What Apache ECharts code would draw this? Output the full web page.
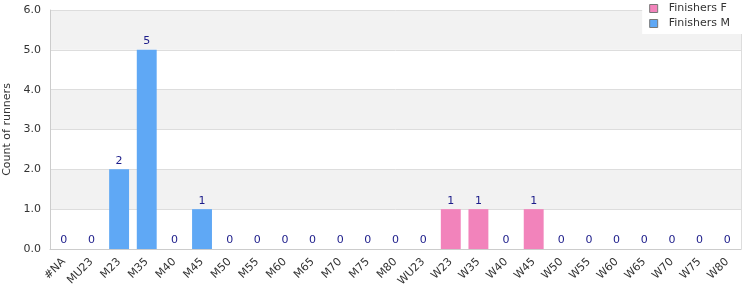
<!DOCTYPE html>
<html><head><meta charset="utf-8">
<script src="https://cdn.jsdelivr.net/npm/echarts@6/dist/echarts.min.js"></script>
<style>html,body{margin:0;padding:0;background:#fff}#c{width:750px;height:300px}</style>
</head><body><div id="c"></div>
<script>
const categories = ['#NA','MU23','M23','M35','M40','M45','M50','M55','M60','M65','M70','M75','M80','WU23','W23','W35','W40','W45','W50','W55','W60','W65','W70','W75','W80'];
const finishersF = [0,0,0,0,0,0,0,0,0,0,0,0,0,0,1,1,0,1,0,0,0,0,0,0,0];
const finishersM = [0,0,2,5,0,1,0,0,0,0,0,0,0,0,0,0,0,0,0,0,0,0,0,0,0];
const yTicks = [0,1,2,3,4,5,6];
const totals = categories.map((c,i)=>finishersF[i]+finishersM[i]);
const font = 'DejaVu Sans';
const chart = echarts.init(document.getElementById('c'), null, {renderer:'canvas'});
chart.setOption({
  animation:false,
  textStyle:{fontFamily:font},
  grid:{left:50,right:9,top:10,bottom:51,outerBoundsMode:'none',containLabel:false},
  legend:{
    data:['Finishers F','Finishers M'], orient:'vertical', right:7, top:0,
    backgroundColor:'#fff', padding:[3,13,5,7], itemGap:4,
    itemWidth:8, itemHeight:8, icon:'rect',
    itemStyle:{borderColor:'#777',borderWidth:1},
    textStyle:{fontFamily:font,fontSize:11,color:'#333',padding:[0,0,0,6]}
  },
  xAxis:{
    type:'category', data:categories,
    axisLine:{lineStyle:{color:'#ccc'}}, axisTick:{show:false},
    axisLabel:{rotate:45, interval:0, fontSize:11, color:'#333', fontFamily:font, margin:11}
  },
  yAxis:[{
    type:'value', min:yTicks[0], max:yTicks[yTicks.length-1], interval:1,
    name:'Count of runners', nameLocation:'middle', nameGap:37, nameRotate:90,
    nameTextStyle:{fontSize:11,color:'#333',fontFamily:font},
    axisLine:{show:true,lineStyle:{color:'#ccc'}}, axisTick:{show:false},
    axisLabel:{formatter:v=>v.toFixed(1), fontSize:11, color:'#333', fontFamily:font, margin:9},
    splitLine:{lineStyle:{color:'#ddd'}},
    splitArea:{show:true, areaStyle:{color:['#ffffff','#f2f2f2']}}
  },{
    type:'value', position:'right', min:0, max:6, interval:1,
    axisLine:{show:true,lineStyle:{color:'#ddd'}}, axisLabel:{show:false}, axisTick:{show:false}, splitLine:{show:false}
  }],
  series:[
    {name:'Finishers F', type:'bar', stack:'s', data:finishersF, barWidth:'72%',
     itemStyle:{color:'#f283bb'}},
    {name:'Finishers M', type:'bar', stack:'s', data:finishersM,
     itemStyle:{color:'#5fa8f5'}},
    {name:'total', type:'bar', stack:'s', data:totals.map(()=>0),
     itemStyle:{color:'transparent'},
     label:{show:true, position:'top', distance:3, formatter:p=>String(totals[p.dataIndex]), color:'#1c1c8a', fontSize:11, fontFamily:font}}
  ]
});
</script></body></html>
